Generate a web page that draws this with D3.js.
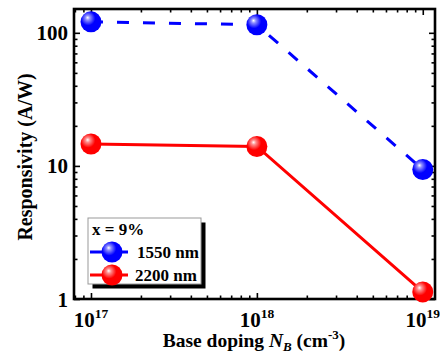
<!DOCTYPE html>
<html>
<head>
<meta charset="utf-8">
<script src="https://cdn.jsdelivr.net/npm/d3@7"></script>
<style>
  html, body { margin: 0; padding: 0; background: #fff; }
  svg { display: block; }
  text { font-family: "Liberation Serif", "Times New Roman", serif; font-weight: bold; fill: #000; }
</style>
</head>
<body>
<svg id="chart" width="440" height="358"></svg>
<script>
// Base doping levels (cm^-3)
const doping = [1e17, 1e18, 1e19];
// Responsivity (A/W) per wavelength
const resp1550 = [121, 115, 9.4];
const resp2200 = [14.6, 14.0, 1.13];
const seriesNames = ["1550 nm", "2200 nm"];
const seriesColors = ["#0000ff", "#ff0000"];
const legendTitle = "x = 9%";
const yTicks = [1, 10, 100];
const xTicks = [1e17, 1e18, 1e19];
const xExponents = ["17", "18", "19"];

const svg = d3.select("#chart");
const m = { left: 74, top: 9, right: 435, bottom: 299 };

const x = d3.scaleLog().domain([7.9e16, 1.185e19]).range([m.left, m.right]);
const y = d3.scaleLog().domain([1, 151]).range([m.bottom, m.top]);

// Minor tick values inside the domain
function minors(scale) {
  const [a, b] = scale.domain();
  const out = [];
  for (let e = Math.floor(Math.log10(a)); e <= Math.ceil(Math.log10(b)); e++) {
    for (let k = 2; k <= 9; k++) {
      const v = k * Math.pow(10, e);
      if (v > a && v < b) out.push(v);
    }
  }
  return out;
}
const xMinor = minors(x);
const yMinor = minors(y);

const W = m.right - m.left, H = m.bottom - m.top;

// Gradients for the shaded ball markers
const defs = svg.append("defs");
seriesColors.forEach((c, i) => {
  const g = defs.append("radialGradient").attr("id", "ball" + i)
    .attr("cx", "0.38").attr("cy", "0.36").attr("r", "0.62")
    .attr("fx", "0.34").attr("fy", "0.3");
  g.append("stop").attr("offset", "0").attr("stop-color", "#ffffff");
  g.append("stop").attr("offset", "0.18").attr("stop-color", d3.interpolateRgb("#ffffff", c)(0.45));
  g.append("stop").attr("offset", "0.55").attr("stop-color", c);
  g.append("stop").attr("offset", "1").attr("stop-color", c);
});

// Axes with inward ticks (major + minor), mirrored on top and right
function tickAxis(axisFn, scale, vals, size, translate) {
  const g = svg.append("g").attr("transform", translate)
    .call(axisFn(scale).tickValues(vals).tickSize(size).tickFormat(""));
  g.select(".domain").remove();
  g.selectAll(".tick line").attr("stroke", "#000").attr("stroke-width", 1.6);
  return g;
}
tickAxis(d3.axisBottom, x, xTicks, -6, `translate(0,${m.bottom})`);
tickAxis(d3.axisBottom, x, xMinor, -3.5, `translate(0,${m.bottom})`);
tickAxis(d3.axisTop, x, xTicks, -6, `translate(0,${m.top})`);
tickAxis(d3.axisTop, x, xMinor, -3.5, `translate(0,${m.top})`);
tickAxis(d3.axisLeft, y, yTicks, -6, `translate(${m.left},0)`);
tickAxis(d3.axisLeft, y, yMinor, -3.5, `translate(${m.left},0)`);
tickAxis(d3.axisRight, y, yTicks, -6, `translate(${m.right},0)`);
tickAxis(d3.axisRight, y, yMinor, -3.5, `translate(${m.right},0)`);

// Frame
svg.append("rect").attr("x", m.left).attr("y", m.top).attr("width", W).attr("height", H)
  .attr("fill", "none").attr("stroke", "#000").attr("stroke-width", 2.6);

// Y tick labels
svg.append("g").selectAll("text").data(yTicks).join("text")
  .attr("x", m.left - 6).attr("y", d => y(d)).attr("dy", "0.36em")
  .attr("text-anchor", "end").style("font-size", "21px")
  .text(d => d);

// X tick labels: 10 with superscript exponent
const xl = svg.append("g").selectAll("text").data(xTicks).join("text")
  .attr("x", d => x(d)).attr("y", m.bottom + 28)
  .attr("text-anchor", "middle").style("font-size", "21px");
xl.append("tspan").text("10");
xl.append("tspan").attr("dy", "-9").style("font-size", "13.5px").text((d, i) => xExponents[i]);

// Axis titles
const xt = svg.append("text").attr("x", 254).attr("y", 347)
  .attr("text-anchor", "middle").style("font-size", "19.5px");
xt.append("tspan").text("Base doping ");
xt.append("tspan").style("font-style", "italic").text("N");
xt.append("tspan").style("font-style", "italic").style("font-size", "13px").attr("dy", "4").text("B");
xt.append("tspan").attr("dy", "-4").text(" (cm");
xt.append("tspan").style("font-size", "13px").attr("dy", "-8").text("-3");
xt.append("tspan").attr("dy", "8").text(")");

svg.append("text").attr("transform", "translate(32,157) rotate(-90)")
  .attr("text-anchor", "middle").style("font-size", "20px")
  .text("Responsivity (A/W)");

// Series lines and markers
const line = d3.line().x(d => x(d[0])).y(d => y(d[1]));
const series = [resp1550, resp2200].map(v => doping.map((d, i) => [d, v[i]]));
const dashes = ["12,14", null];

series.forEach((pts, i) => {
  svg.append("path").datum(pts).attr("d", line)
    .attr("fill", "none").attr("stroke", seriesColors[i]).attr("stroke-width", 3)
    .attr("stroke-dasharray", dashes[i]);
});
series.forEach((pts, i) => {
  svg.append("g").selectAll("circle").data(pts).join("circle")
    .attr("cx", d => x(d[0])).attr("cy", d => y(d[1])).attr("r", 10.5)
    .attr("fill", `url(#ball${i})`);
});

// Legend with drop shadow
const lg = { x: 88, y: 218, w: 113, h: 66 };
svg.append("rect").attr("x", lg.x + 4.5).attr("y", lg.y + 4.5).attr("width", lg.w).attr("height", lg.h).attr("fill", "#000");
svg.append("rect").attr("x", lg.x).attr("y", lg.y).attr("width", lg.w).attr("height", lg.h)
  .attr("fill", "#fff").attr("stroke", "#999").attr("stroke-width", 1);
svg.append("text").attr("x", lg.x + 4).attr("y", lg.y + 17).style("font-size", "17px").text(legendTitle);
seriesNames.forEach((name, i) => {
  const cy = lg.y + 34 + i * 23;
  svg.append("line").attr("x1", lg.x + 2).attr("x2", lg.x + 40).attr("y1", cy).attr("y2", cy)
    .attr("stroke", seriesColors[i]).attr("stroke-width", 3);
  svg.append("circle").attr("cx", lg.x + 24).attr("cy", cy).attr("r", 10.5).attr("fill", `url(#ball${i})`);
  svg.append("text").attr("x", i === 0 ? lg.x + 49 : lg.x + 47).attr("y", cy + 6).style("font-size", "17px").text(name);
});
</script>
</body>
</html>
